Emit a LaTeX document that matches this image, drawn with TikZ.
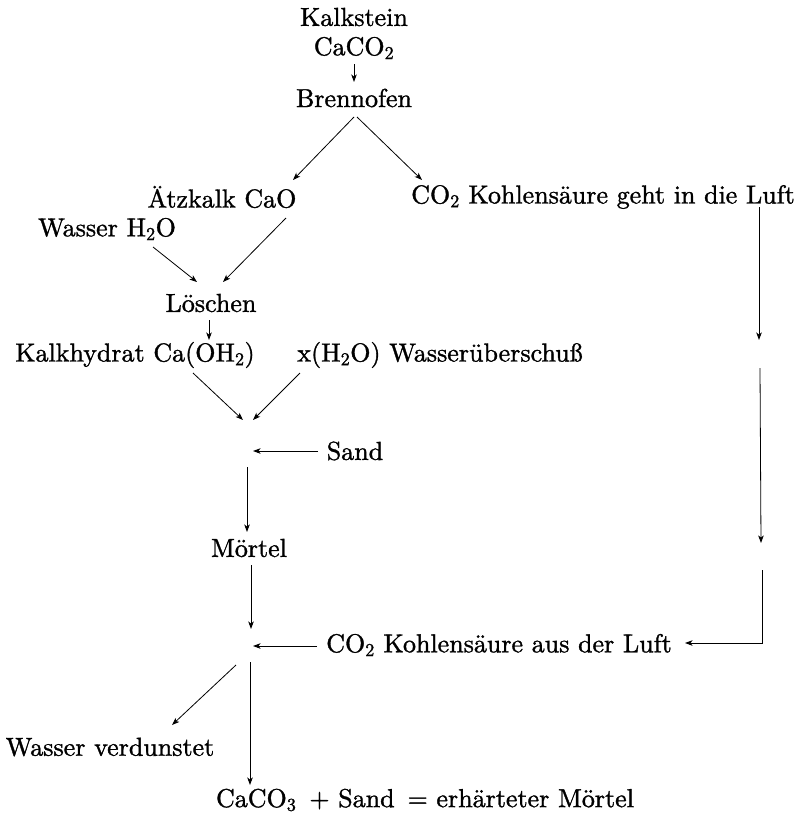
\documentclass[tikz,border=0pt]{standalone}
\usetikzlibrary{arrows.meta,calc}
\DeclareFontFamily{TU}{lmten}{}
\DeclareFontShape{TU}{lmten}{m}{n}{<-> "[lmroman10-regular]:+tlig;embolden=1.2"}{}
\newcommand{\sbs}[1]{\textsubscript{#1}}
\begin{document}
\begin{tikzpicture}[x=1pt,y=1pt,
  lbl/.style={inner sep=0pt,font=\fontfamily{lmten}\fontsize{26}{30}\selectfont},
  arr/.style={draw,line width=0.8pt,-{Stealth[length=7.5pt,width=5.5pt,inset=2pt]}},
  ln/.style={draw,line width=0.8pt}]
\useasboundingbox (0,0) rectangle (806,-817);
\node[lbl] (kalk) at (354,-17) {Kalkstein};
\node[lbl] (caco) at (354,-48) {CaCO\sbs{2}};
\node[lbl] (brenn) at (354,-98) {Brennofen};
\node[lbl] (aetz) at (222,-197) {Ätzkalk CaO};
\node[lbl] (co2a) at (603,-197) {CO\sbs{2} Kohlensäure geht in die Luft};
\node[lbl] (wasser) at (107,-229) {Wasser H\sbs{2}O};
\node[lbl] (losch) at (211,-303) {Löschen};
\node[lbl] (kalkh) at (135,-355) {Kalkhydrat Ca(OH\sbs{2})};
\node[lbl] (xh) at (440,-355) {x(H\sbs{2}O) Wasserüberschuß};
\coordinate (j1) at (248,-451);
\node[lbl] (sand) at (355,-451) {Sand};
\node[lbl] (mort) at (249,-548) {Mörtel};
\coordinate (j2) at (251,-646);
\node[lbl] (co2b) at (499,-645) {CO\sbs{2} Kohlensäure aus der Luft};
\node[lbl] (verd) at (110,-747) {Wasser verdunstet};
\node[lbl] (end) at (425,-800) {CaCO\sbs{3}\, + Sand\, = erhärteter Mörtel};
\coordinate (ra) at (759,-340);
\coordinate (rb) at (760,-368);
\coordinate (rc) at (761,-543);
\coordinate (rd) at (762,-570);

\path[arr] ([shift={(0,-16)}]caco.center) -- ([shift={(0,16)}]brenn.center);
\path[arr] ([shift={(0,-19)}]brenn.center) -- ([shift={(71,17)}]aetz.center);
\path[arr] ([shift={(3,-19)}]brenn.center) -- ([shift={(-181,17)}]co2a.center);
\path[arr] ([shift={(46,-18)}]wasser.center) -- ([shift={(-14,21)}]losch.center);
\path[arr] ([shift={(64,-21)}]aetz.center) -- ([shift={(12,21)}]losch.center);
\path[arr] ([shift={(-2,-17)}]losch.center) -- ([shift={(74,15)}]kalkh.center);
\path[arr] ([shift={(58,-18)}]kalkh.center) -- ([shift={(-5,31)}]j1);
\path[arr] ([shift={(-140,-18)}]xh.center) -- ([shift={(5,31)}]j1);
\path[arr] ([shift={(-37,0)}]sand.center) -- ([shift={(5,0)}]j1);
\path[arr] ([shift={(-1,-16)}]j1) -- ([shift={(-2,16)}]mort.center);
\path[arr] ([shift={(2,-17)}]mort.center) -- ([shift={(0,17)}]j2);
\path[arr] ([shift={(-182,-1)}]co2b.center) -- ([shift={(2,0)}]j2);
\path[arr] ([shift={(-15,-19)}]j2) -- ([shift={(62,22)}]verd.center);
\path[arr] ([shift={(-1,-16)}]j2) -- ([shift={(-175,15)}]end.center);
\path[arr] ([shift={(156,-10)}]co2a.center) -- (ra);
\path[arr] (rb) -- (rc);
\path[arr] (rd) -- ([shift={(0,-73)}]rd) -- ([shift={(186,2)}]co2b.center);
\end{tikzpicture}
\end{document}
